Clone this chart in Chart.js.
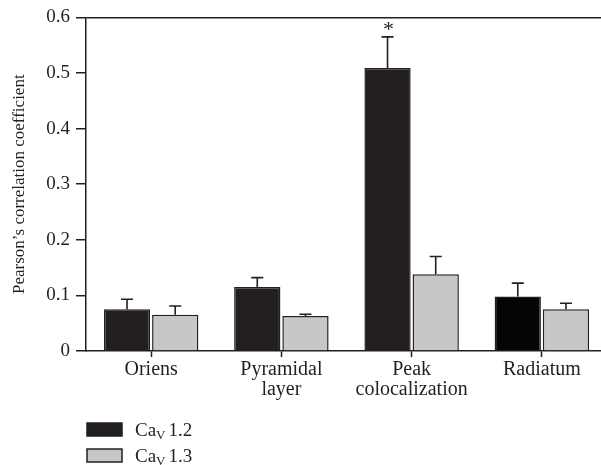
<!DOCTYPE html>
<html lang="en">
<head>
<meta charset="UTF-8">
<script src="https://cdn.jsdelivr.net/npm/chart.js"></script>
<title>Pearson's correlation</title>
<style>
    body { margin: 0; background: #fff; overflow: hidden; }
    #wrap { width: 607px; height: 465px; }
</style>
</head>
<body>
<div id="wrap"><canvas id="grafico"></canvas></div>
<script>
// dados
const regioes = [['Oriens'], ['Pyramidal', 'layer'], ['Peak', 'colocalization'], ['Radiatum']];
const cav12 = [0.075, 0.115, 0.509, 0.098];
const cav12Erro = [0.018, 0.017, 0.056, 0.024];
const cav13 = [0.065, 0.063, 0.138, 0.075];
const cav13Erro = [0.016, 0.003, 0.032, 0.011];
const asterisco = [false, false, true, false]; // sobre Cav1.2
const ticksY = ['0', '0.1', '0.2', '0.3', '0.4', '0.5', '0.6'];
const legendas = ['1.2', '1.3'];

const fonte = 'Liberation Serif';
const escuro = '#231f20';
const cinza = '#c6c7c8';

const barrasErro = {
    id: 'barrasErro',
    afterDatasetsDraw(chart) {
        const ctx = chart.ctx;
        const y = chart.scales.y;
        const erros = [cav12Erro, cav13Erro];
        ctx.save();
        ctx.strokeStyle = '#231f20';
        ctx.lineWidth = 1.6;
        chart.data.datasets.forEach((ds, i) => {
            chart.getDatasetMeta(i).data.forEach((bar, j) => {
                const topo = y.getPixelForValue(ds.data[j] + erros[i][j]);
                ctx.beginPath();
                ctx.moveTo(bar.x, bar.y);
                ctx.lineTo(bar.x, topo);
                ctx.moveTo(bar.x - 6, topo);
                ctx.lineTo(bar.x + 6, topo);
                ctx.stroke();
                if (i === 0 && asterisco[j]) {
                    ctx.fillStyle = '#231f20';
                    ctx.font = '22px "' + fonte + '"';
                    ctx.textAlign = 'center';
                    ctx.textBaseline = 'bottom';
                    ctx.fillText('*', bar.x + 1, topo + 4);
                }
            });
        });
        ctx.restore();
    }
};

const legenda = {
    id: 'legenda',
    afterDraw(chart) {
        const ctx = chart.ctx;
        const x0 = chart.chartArea.left + 1;
        ctx.save();
        chart.data.datasets.forEach((ds, i) => {
            const yb = 423 + i * 26;
            ctx.fillStyle = i === 0 ? escuro : cinza;
            ctx.fillRect(x0, yb, 35, 13);
            ctx.strokeStyle = '#231f20';
            ctx.lineWidth = 1.5;
            ctx.strokeRect(x0, yb, 35, 13);
            ctx.fillStyle = '#231f20';
            ctx.textBaseline = 'alphabetic';
            ctx.textAlign = 'left';
            ctx.font = '19px "' + fonte + '"';
            let tx = x0 + 48;
            const base = yb + 13;
            ctx.fillText('Ca', tx, base);
            tx += ctx.measureText('Ca').width;
            ctx.font = '13px "' + fonte + '"';
            ctx.fillText('V', tx, base + 3);
            tx += ctx.measureText('V').width + 3;
            ctx.font = '19px "' + fonte + '"';
            ctx.fillText(legendas[i], tx, base);
        });
        ctx.restore();
    }
};

new Chart(document.getElementById('grafico'), {
    type: 'bar',
    data: {
        labels: regioes,
        datasets: [{
            label: 'Cav 1.2',
            data: cav12,
            backgroundColor: [escuro, escuro, escuro, '#050505'],
            borderColor: '#231f20',
            borderWidth: 1.5,
            categoryPercentage: 0.74,
            barPercentage: 0.96
        }, {
            label: 'Cav 1.3',
            data: cav13,
            backgroundColor: cinza,
            borderColor: '#231f20',
            borderWidth: 1.5,
            categoryPercentage: 0.74,
            barPercentage: 0.96
        }]
    },
    options: {
        responsive: true,
        maintainAspectRatio: false,
        animation: false,
        layout: { padding: { top: 5, right: 0, bottom: 60, left: 0 } },
        plugins: { legend: { display: false }, tooltip: { enabled: false } },
        scales: {
            x: {
                afterFit: s => { s.height = 54; },
                grid: { offset: false, drawOnChartArea: false, tickLength: 6, tickColor: '#231f20', tickWidth: 1.5 },
                border: { color: '#231f20', width: 1.5 },
                ticks: { color: '#231f20', font: { family: fonte, size: 20, lineHeight: 1.0 }, padding: 3, maxRotation: 0 }
            },
            y: {
                afterFit: s => { s.width = 86; },
                min: 0,
                max: 0.6,
                ticks: {
                    stepSize: 0.1,
                    color: '#231f20',
                    font: { family: fonte, size: 19 },
                    padding: 6,
                    callback: (v, i) => ticksY[i]
                },
                grid: {
                    color: c => c.tick && Math.abs(c.tick.value - 0.6) < 1e-9 ? '#231f20' : 'transparent',
                    tickColor: '#231f20',
                    lineWidth: 1.5,
                    tickLength: 10
                },
                border: { color: '#231f20', width: 1.5 },
                title: { display: true, text: 'Pearson\u2019s correlation coefficient', color: '#231f20', font: { family: fonte, size: 17 }, padding: { top: 9, bottom: 0 } }
            }
        }
    },
    plugins: [barrasErro, legenda]
});
</script>
</body>
</html>
